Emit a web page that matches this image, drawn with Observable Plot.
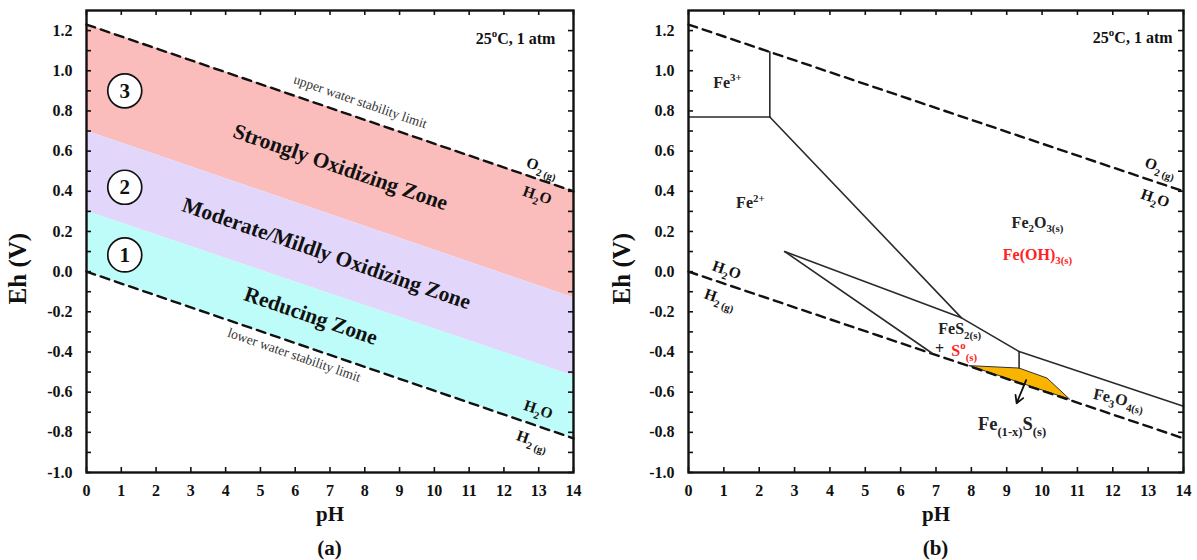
<!DOCTYPE html>
<html><head><meta charset="utf-8">
<script src="https://cdn.jsdelivr.net/npm/d3@7"></script>
<script src="https://cdn.jsdelivr.net/npm/@observablehq/plot@0.6"></script>
<style>
body{margin:0;background:#fff;font-family:"Liberation Serif","Times New Roman",serif;overflow:hidden}
#wrap{display:flex;width:1197px;height:560px}
.cap{font-weight:bold;font-size:21px;text-align:center;line-height:30px;margin-top:3px;color:#111}
</style></head><body><div id="wrap"></div>
<script>
// ---------- shared data ----------
const xTicks = [0,1,2,3,4,5,6,7,8,9,10,11,12,13,14];
const yTicks = [-1.0,-0.8,-0.6,-0.4,-0.2,0.0,0.2,0.4,0.6,0.8,1.0,1.2];
const yMinorTicks = [-1.0,-0.9,-0.8,-0.7,-0.6,-0.5,-0.4,-0.3,-0.2,-0.1,0.0,0.1,0.2,0.3,0.4,0.5,0.6,0.7,0.8,0.9,1.0,1.1,1.2];
const waterPH = [0, 14];
const waterUpperEh = [1.23, 0.40];
const waterLowerEh = [0.00, -0.83];

// ---------- panel (a) data ----------
const zoneNames = ["Strongly Oxidizing Zone", "Moderate/Mildly Oxidizing Zone", "Reducing Zone"];
const zoneNumbers = ["3", "2", "1"];
const zoneColors = ["#fbbcbc", "#e2d7fb", "#bdfcf9"];
const zoneTopEh = [[1.23, 0.40], [0.70, -0.13], [0.30, -0.52]];     // at pH 0 and 14
const zoneBottomEh = [[0.70, -0.13], [0.30, -0.52], [0.00, -0.83]];
const zoneLabelPH = [7.3, 6.9, 6.45];
const zoneLabelEh = [0.52, 0.09, -0.22];
const zoneNumberPH = [1.1, 1.1, 1.1];
const zoneNumberEh = [0.90, 0.42, 0.083];
const limitLabels = ["upper water stability limit", "lower water stability limit"];
const limitLabelPH = [7.87, 5.97];
const limitLabelEh = [0.846, -0.415];
const speciesLabelsA = ["O_{2 (g)}", "H_{2}O", "H_{2}O", "H_{2 (g)}"];
const speciesPHA = [13.1, 12.96, 12.99, 12.82];
const speciesEhA = [0.52, 0.38, -0.687, -0.84];

// ---------- panel (b) data ----------
const boundaryNames = ["Fe3+/Fe2+", "Fe3+/Fe2O3", "Fe2+/Fe2O3", "upper FeS2", "lower FeS2", "FeS2/Fe3O4"];
const boundaryPoints = [
  [[0, 0.77], [2.3, 0.77]],
  [[2.3, 0.77], [2.3, 1.094]],
  [[2.3, 0.77], [7.72, -0.23]],
  [[2.72, 0.10], [7.72, -0.23], [9.35, -0.398], [14, -0.67]],
  [[2.72, 0.10], [6.88, -0.405]],
  [[9.35, -0.398], [9.35, -0.48]]
];
const pyrrhotitePolygon = [[7.94, -0.468], [9.35, -0.48], [10.14, -0.53], [10.78, -0.635], [7.94, -0.468]];
const arrowFrom = [9.55, -0.54];
const arrowTo = [9.28, -0.655];
const speciesLabelsB = ["Fe^{3+}", "Fe^{2+}", "Fe_{2}O_{3(s)}", "FeS_{2(s)}", "+", "Fe_{(1-x)}S_{(s)}"];
const speciesPHB = [1.1, 1.75, 9.87, 7.67, 7.1, 9.15];
const speciesEhB = [0.94, 0.34, 0.245, -0.285, -0.385, -0.76];
const speciesSizeB = [16, 16, 16, 16, 16, 18.5];
const redLabelsB = ["Fe(OH)_{3(s)}", "S^{o}_{(s)}"];
const redPHB = [9.87, 7.8];
const redEhB = [0.085, -0.395];
const waterLabelsB = ["H_{2}O", "H_{2 (g)}", "O_{2 (g)}", "H_{2}O"];
const waterLabelPHB = [1.08, 0.89, 13.35, 13.2];
const waterLabelEhB = [0.008, -0.134, 0.52, 0.365];
const magnetiteLabel = ["Fe_{3}O_{4(s)}"];
const magnetitePH = [12.17];
const magnetiteEh = [-0.635];
const conditionText = "25^{o}C, 1 atm";
const yAxisTitle = "Eh (V)";
const xAxisTitle = "pH";

// ---------- helpers ----------
const FONT = '"Liberation Serif","Times New Roman",serif';
const rows2 = (xs, ys) => xs.map((x, i) => ({pH: x, Eh: ys[i]}));
const dashed = {stroke: "#111", strokeWidth: 2.4, strokeDasharray: "9,6"};
const H = 530, MT = 10, MB = 58, TICK = 5;

function frameAxes(innerW, titleDx) {
  const innerH = H - MT - MB;
  return [
    Plot.axisX({anchor: "bottom", ticks: xTicks, tickSize: 0, tickPadding: 12, tickFormat: d => String(d), fontSize: 16, label: null}),
    Plot.axisY({anchor: "left", ticks: yTicks, tickSize: 0, tickPadding: 14, tickFormat: d => d.toFixed(1), fontSize: 16, label: null}),
    Plot.tickX(xTicks, {x: d => d, insetTop: innerH - TICK, stroke: "#111", strokeWidth: 1.6}),
    Plot.tickX(xTicks, {x: d => d, insetBottom: innerH - TICK, stroke: "#111", strokeWidth: 1.6}),
    Plot.tickY(yMinorTicks, {y: d => d, insetRight: innerW - TICK, stroke: "#111", strokeWidth: 1.6}),
    Plot.tickY(yMinorTicks, {y: d => d, insetLeft: innerW - TICK, stroke: "#111", strokeWidth: 1.6}),
    Plot.frame({stroke: "#111", strokeWidth: 2.4}),
    Plot.text([{t: yAxisTitle, pH: 0, Eh: 0.015}], {x: "pH", y: "Eh", text: "t", dx: titleDx, rotate: -90, fontSize: 25}),
    Plot.text([xAxisTitle], {frameAnchor: "bottom", dy: 48, fontSize: 21})
  ];
}

const baseOpts = {
  height: H, marginTop: MT, marginBottom: MB,
  x: {domain: [0, 14]}, y: {domain: [-1.0, 1.3]},
  style: {fontFamily: FONT, fontSize: "16px", fontWeight: "bold", color: "#111", background: "white", overflow: "visible"}
};

// ---------- panel (a) ----------
const zoneRows = zoneNames.flatMap((z, i) => waterPH.map((p, j) => ({zone: z, pH: p, top: zoneTopEh[i][j], bottom: zoneBottomEh[i][j]})));
const zoneLabelRows = zoneNames.map((z, i) => ({text: z, pH: zoneLabelPH[i], Eh: zoneLabelEh[i]}));
const zoneNumRows = zoneNumbers.map((n, i) => ({text: n, pH: zoneNumberPH[i], Eh: zoneNumberEh[i]}));
const limitRows = limitLabels.map((t, i) => ({text: t, pH: limitLabelPH[i], Eh: limitLabelEh[i]}));
const specARows = speciesLabelsA.map((t, i) => ({text: t, pH: speciesPHA[i], Eh: speciesEhA[i]}));

const plotA = Plot.plot({
  ...baseOpts, width: 598, marginLeft: 86, marginRight: 25,
  color: {domain: zoneNames, range: zoneColors},
  marks: [
    Plot.areaY(zoneRows, {x: "pH", y1: "bottom", y2: "top", fill: "zone", z: "zone"}),
    Plot.line(rows2(waterPH, waterUpperEh), {x: "pH", y: "Eh", ...dashed}),
    Plot.line(rows2(waterPH, waterLowerEh), {x: "pH", y: "Eh", ...dashed}),
    Plot.text(zoneLabelRows, {x: "pH", y: "Eh", text: "text", rotate: 19, fontSize: 21.5, fill: "#111"}),
    Plot.dot(zoneNumRows, {x: "pH", y: "Eh", r: 17, fill: "white", stroke: "#111", strokeWidth: 1.7}),
    Plot.text(zoneNumRows, {x: "pH", y: "Eh", text: "text", fontSize: 21}),
    Plot.text(limitRows, {x: "pH", y: "Eh", text: "text", rotate: 19, fontSize: 13.5, fontWeight: "normal", fill: "#333"}),
    Plot.text(specARows, {x: "pH", y: "Eh", text: "text", rotate: 19, fontSize: 15.5}),
    Plot.text([conditionText], {x: 13.48, y: 1.16, textAnchor: "end", fontSize: 16}),
    ...frameAxes(598 - 86 - 25, -69)
  ]
});

// ---------- panel (b) ----------
const boundaryRows = boundaryNames.flatMap((n, i) => boundaryPoints[i].map(([p, e]) => ({name: n, pH: p, Eh: e})));
const polyRows = pyrrhotitePolygon.map(([p, e]) => ({pH: p, Eh: e}));
const specBRows = speciesLabelsB.map((t, i) => ({text: t, pH: speciesPHB[i], Eh: speciesEhB[i], size: speciesSizeB[i]}));
const redRows = redLabelsB.map((t, i) => ({text: t, pH: redPHB[i], Eh: redEhB[i]}));
const waterBRows = waterLabelsB.map((t, i) => ({text: t, pH: waterLabelPHB[i], Eh: waterLabelEhB[i]}));
const magRows = magnetiteLabel.map((t, i) => ({text: t, pH: magnetitePH[i], Eh: magnetiteEh[i]}));

const plotB = Plot.plot({
  ...baseOpts, width: 599, marginLeft: 90, marginRight: 14,
  marks: [
    Plot.line(polyRows, {x: "pH", y: "Eh", fill: "#f9b400", stroke: "#333", strokeWidth: 1}),
    Plot.line(rows2(waterPH, waterUpperEh), {x: "pH", y: "Eh", ...dashed}),
    Plot.line(rows2(waterPH, waterLowerEh), {x: "pH", y: "Eh", ...dashed}),
    Plot.line(boundaryRows, {x: "pH", y: "Eh", z: "name", stroke: "#2a2a2a", strokeWidth: 1.6}),
    Plot.arrow([{x1: arrowFrom[0], y1: arrowFrom[1], x2: arrowTo[0], y2: arrowTo[1]}], {x1: "x1", y1: "y1", x2: "x2", y2: "y2", stroke: "#111", strokeWidth: 1.8, headLength: 9}),
    ...specBRows.map(r => Plot.text([r], {x: "pH", y: "Eh", text: "text", fontSize: r.size, fill: "#222"})),
    Plot.text(redRows, {x: "pH", y: "Eh", text: "text", fontSize: 16, fill: "#ff2222"}),
    Plot.text(waterBRows, {x: "pH", y: "Eh", text: "text", rotate: 19, fontSize: 15.5}),
    Plot.text(magRows, {x: "pH", y: "Eh", text: "text", rotate: 12, fontSize: 16, fill: "#222"}),
    Plot.text([conditionText], {x: 13.69, y: 1.165, textAnchor: "end", fontSize: 16}),
    ...frameAxes(599 - 90 - 14, -67)
  ]
});

// ---------- assemble ----------
const wrap = document.getElementById("wrap");
function panel(svg, ml, fw, cap) {
  const d = document.createElement("div");
  d.style.width = svg.getAttribute("width") + "px";
  d.appendChild(svg);
  const c = document.createElement("div");
  c.className = "cap";
  c.style.marginLeft = ml + "px";
  c.style.width = fw + "px";
  c.textContent = cap;
  d.appendChild(c);
  wrap.appendChild(d);
}
panel(plotA, 86, 487, "(a)");
panel(plotB, 90, 495, "(b)");

// sub/superscript markup -> tspans
function richify(svg) {
  svg.querySelectorAll("text").forEach(t => {
    const s = t.textContent;
    if (!/[_^]\{/.test(s)) return;
    const fs = parseFloat(getComputedStyle(t).fontSize) || 15;
    t.textContent = "";
    const re = /([_^])\{([^}]*)\}|([^_^]+)/g;
    let m, shift = 0;
    while ((m = re.exec(s))) {
      const ts = document.createElementNS("http://www.w3.org/2000/svg", "tspan");
      let target = 0;
      if (m[3] !== undefined) { ts.textContent = m[3]; }
      else {
        ts.textContent = m[2];
        target = m[1] === "_" ? 0.3 * fs : -0.42 * fs;
        ts.setAttribute("font-size", (0.68 * fs).toFixed(1));
      }
      const dy = target - shift;
      if (dy) ts.setAttribute("dy", dy.toFixed(1));
      shift = target;
      t.appendChild(ts);
    }
  });
}
richify(plotA);
richify(plotB);
</script>
</body></html>
